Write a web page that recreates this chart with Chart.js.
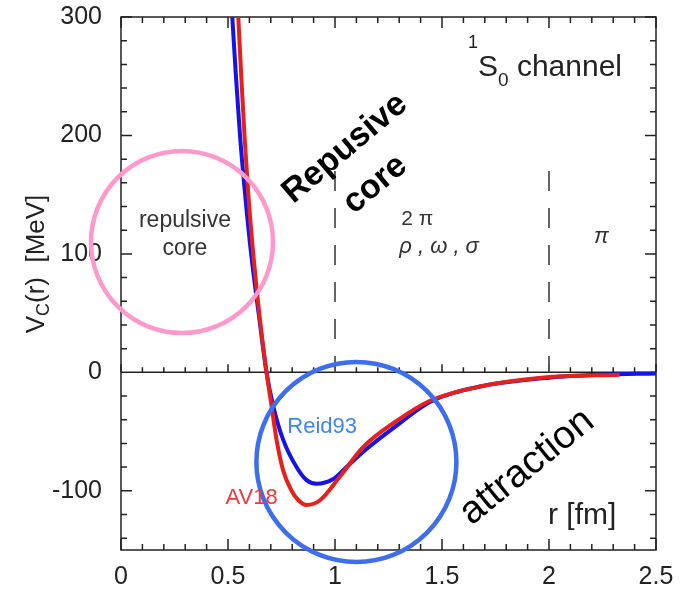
<!DOCTYPE html>
<html>
<head>
<meta charset="utf-8">
<script src="https://cdn.jsdelivr.net/npm/chart.js@4.4.1/dist/chart.umd.min.js"></script>
<style>
  html, body { margin: 0; padding: 0; background: #fff; }
  #wrap { width: 681px; height: 591px; position: relative; }
</style>
</head>
<body>
<div id="wrap"><canvas id="chart"></canvas></div>
<script>
// AV18 (red) and Reid93 (blue) central potential
const av18R = [0.548, 0.562, 0.577, 0.595, 0.618, 0.646, 0.680, 0.704, 0.727, 0.758, 0.797, 0.829, 0.868, 0.930, 1.023, 1.132, 1.288, 1.444, 1.678, 2.0, 2.33];
const av18V = [300, 250, 200, 150, 100, 50, 0, -29, -57, -83, -100, -108, -112, -108, -88, -63, -41, -24, -12, -4, -2];

const reidR = [0.520, 0.537, 0.556, 0.580, 0.608, 0.643, 0.680, 0.712, 0.758, 0.820, 0.867, 0.914, 0.992, 1.054, 1.132, 1.288, 1.444, 1.678, 2.0, 2.25, 2.5];
const reidV = [300, 250, 200, 150, 100, 50, 0, -29, -57, -80, -91, -94, -90, -80, -67, -45, -25, -12, -4.5, -2, -1];

// range boundaries (dashed) and the two highlight circles
const dividerR = [1, 2];
const dividerTop = 170;
const circleR = [0.285, 1.10];
const circleV = [110, -75.6];
const circleSize = [91, 100];
const circleColor = ["#ff99cc", "#3d6ef0"];

const xTicks = [0, 0.5, 1, 1.5, 2, 2.5];
const yTicks = [-100, 0, 100, 200, 300];

const SANS = '"Liberation Sans", Arial, Helvetica, sans-serif';

const toXY = (xs, ys) => xs.map((x, i) => ({ x, y: ys[i] }));

const datasets = [];
dividerR.forEach((r) => {
  datasets.push({
    type: "line",
    data: [{ x: r, y: dividerTop }, { x: r, y: 0 }],
    borderColor: "#555",
    borderWidth: 1.8,
    borderDash: [20, 17],
    pointRadius: 0,
  });
});
datasets.push({
  type: "line",
  label: "AV18",
  data: toXY(av18R, av18V),
  borderColor: "#e8201c",
  borderWidth: 4,
  pointRadius: 0,
  cubicInterpolationMode: "monotone",
});
datasets.push({
  type: "line",
  label: "Reid93",
  data: toXY(reidR, reidV),
  borderColor: "#1414e6",
  borderWidth: 4,
  pointRadius: 0,
  cubicInterpolationMode: "monotone",
});

const frame = {
  id: "frame",
  beforeDatasetsDraw(chart) {
    const { ctx, chartArea: a, scales: { x, y } } = chart;
    const y0 = y.getPixelForValue(0);
    ctx.save();
    ctx.strokeStyle = "#222";
    ctx.lineWidth = 1.5;
    ctx.strokeRect(a.left, a.top, a.right - a.left, a.bottom - a.top);
    ctx.beginPath();
    ctx.moveTo(a.left, y0);
    ctx.lineTo(a.right, y0);
    for (let i = 0; i <= 25; i++) {
      const px = x.getPixelForValue(i / 10);
      const len = i % 5 === 0 ? 11 : 6;
      ctx.moveTo(px, a.bottom); ctx.lineTo(px, a.bottom - len);
      ctx.moveTo(px, a.top); ctx.lineTo(px, a.top + len);
      ctx.moveTo(px, y0); ctx.lineTo(px, y0 - (i % 5 === 0 ? 8 : 5));
    }
    for (let v = -140; v <= 300; v += 20) {
      const py = y.getPixelForValue(v);
      const len = v % 100 === 0 ? 11 : 6;
      ctx.moveTo(a.left, py); ctx.lineTo(a.left + len, py);
      ctx.moveTo(a.right, py); ctx.lineTo(a.right - len, py);
    }
    ctx.stroke();
    ctx.restore();
  },
  afterDatasetsDraw(chart) {
    const { ctx, scales: { x, y } } = chart;
    ctx.save();
    ctx.lineWidth = 4.5;
    circleR.forEach((r, i) => {
      ctx.strokeStyle = circleColor[i];
      ctx.beginPath();
      ctx.arc(x.getPixelForValue(r), y.getPixelForValue(circleV[i]), circleSize[i], 0, Math.PI * 2);
      ctx.stroke();
    });
    ctx.restore();
  },
  afterDraw(chart) {
    const { ctx, scales: { x, y } } = chart;
    const X = (v) => x.getPixelForValue(v);
    const Y = (v) => y.getPixelForValue(v);
    ctx.save();
    ctx.textBaseline = "middle";
    ctx.textAlign = "center";

    // y axis title with subscript
    ctx.save();
    ctx.translate(37, 264);
    ctx.rotate(-Math.PI / 2);
    ctx.fillStyle = "#222";
    const big = "26px " + SANS, small = "18px " + SANS;
    ctx.font = big;
    const wV = ctx.measureText("V").width;
    const wRest = ctx.measureText("(r)  [MeV]").width;
    ctx.font = small;
    const wC = ctx.measureText("C").width;
    let cx = -(wV + wC + wRest) / 2;
    ctx.textAlign = "left";
    ctx.font = big; ctx.fillText("V", cx, 0); cx += wV;
    ctx.font = small; ctx.fillText("C", cx, 7); cx += wC;
    ctx.font = big; ctx.fillText("(r)  [MeV]", cx, 0);
    ctx.restore();

    ctx.fillStyle = "#333";
    ctx.font = "23px " + SANS;
    ctx.fillText("repulsive", X(0.299), Y(128));
    ctx.fillText("core", X(0.299), Y(104));

    // channel label
    ctx.textAlign = "left";
    ctx.textBaseline = "alphabetic";
    ctx.fillStyle = "#222";
    let lx = 468;
    ctx.font = "18px " + SANS;
    ctx.fillText("1", lx, Y(274)); lx += ctx.measureText("1").width;
    ctx.font = "30px " + SANS;
    ctx.fillText("S", lx, Y(250)); lx += ctx.measureText("S").width;
    ctx.font = "19px " + SANS;
    ctx.fillText("0", lx, Y(242)); lx += ctx.measureText("0").width;
    ctx.font = "30px " + SANS;
    ctx.fillText(" channel", lx, Y(250));

    ctx.font = "21px " + SANS;
    ctx.fillStyle = "#333";
    ctx.fillText("2 \u03c0", X(1.31), Y(124));
    ctx.font = "italic 22px " + SANS;
    ctx.fillText("\u03c1 , \u03c9 , \u03c3", X(1.30), Y(101));
    ctx.textAlign = "center";
    ctx.textBaseline = "middle";
    ctx.fillText("\u03c0", X(2.245), Y(114));

    ctx.font = "30px " + SANS;
    ctx.fillStyle = "#222";
    ctx.fillText("r [fm]", X(2.155), Y(-121));

    ctx.font = "22px " + SANS;
    ctx.fillStyle = "#3f86f0";
    ctx.fillText("Reid93", X(0.94), Y(-46));
    ctx.fillStyle = "#f03a3a";
    ctx.fillText("AV18", X(0.61), Y(-106));

    // rotated callouts
    ctx.fillStyle = "#000";
    ctx.save();
    ctx.translate(X(1.047), Y(189));
    ctx.rotate(-40 * Math.PI / 180);
    ctx.font = "bold 34px " + SANS;
    ctx.fillText("Repusive", 0, 0);
    ctx.fillText("core", 0, 47);
    ctx.restore();

    ctx.save();
    ctx.translate(X(1.897), Y(-80));
    ctx.rotate(-39 * Math.PI / 180);
    ctx.font = "39px " + SANS;
    ctx.fillText("attraction", 0, 0);
    ctx.restore();

    ctx.restore();
  },
};

const tickFont = { family: SANS, size: 25 };

new Chart(document.getElementById("chart"), {
  data: { datasets },
  options: {
    responsive: true,
    maintainAspectRatio: false,
    animation: false,
    layout: { padding: { top: 17, right: 25, left: 0, bottom: 0 } },
    plugins: { legend: { display: false }, tooltip: { enabled: false } },
    events: [],
    scales: {
      x: {
        type: "linear",
        min: 0,
        max: 2.5,
        grid: { display: false },
        border: { display: false },
        afterBuildTicks: (s) => { s.ticks = xTicks.map((v) => ({ value: v })); },
        afterFit: (s) => { s.height = 41; s.paddingLeft = 0; s.paddingRight = 0; },
        ticks: { font: tickFont, color: "#222", padding: 4, maxRotation: 0, autoSkip: false, callback: (v) => String(v) },
      },
      y: {
        type: "linear",
        min: -150,
        max: 300,
        grid: { display: false },
        border: { display: false },
        afterBuildTicks: (s) => { s.ticks = yTicks.map((v) => ({ value: v })); },
        afterFit: (s) => { s.width = 121; s.paddingTop = 0; s.paddingBottom = 0; },
        ticks: { font: tickFont, color: "#222", padding: 11, autoSkip: false, callback: (v) => String(v) },
      },
    },
  },
  plugins: [frame],
});
</script>
</body>
</html>
